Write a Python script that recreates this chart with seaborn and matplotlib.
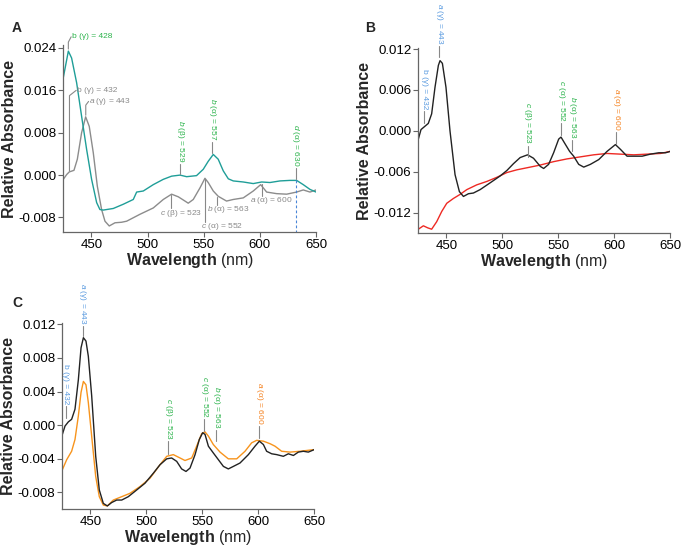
import matplotlib
matplotlib.use("Agg")
import matplotlib.pyplot as plt
import seaborn as sns

# ---- panel A: two spectra (teal and grey) ----
a_teal_wl = [425, 429.5, 432.4, 436.9, 441.3, 445.8, 450.2, 454.7, 457.6, 460.6, 469.5, 478.4,
             487.3, 490.3, 496.2, 505.1, 514, 521.4, 528.9, 534.8, 543.6, 549.6, 554, 558.5,
             562.9, 567.4, 571.9, 576.3, 585.2, 594.1, 601.6, 609, 617.9, 626.8, 632.7, 638.6,
             644.6, 650]
a_teal_abs = [0.0184, 0.0234, 0.0221, 0.0174, 0.0111, 0.0048, -0.0008, -0.0052, -0.0065, -0.0066,
              -0.0063, -0.0055, -0.0046, -0.0032, -0.0030, -0.0018, -0.0008, -0.0002, 0.0,
              -0.0003, -0.0001, 0.0011, 0.0026, 0.0039, 0.0030, 0.0008, -0.0007, -0.0011,
              -0.0013, -0.0016, -0.0013, -0.0014, -0.0011, -0.0010, -0.0010, -0.0018, -0.0027,
              -0.0032]

a_grey_wl = [425, 428, 430.3, 434.5, 437.5, 441.3, 444.9, 448.1, 451.7, 455.3, 459.1, 462.1,
             465.9, 471, 476.9, 481.4, 493.2, 505.1, 514, 521.4, 527.4, 533.3, 536.2, 540.7,
             546.7, 551.1, 554, 558.5, 562.9, 570.3, 576.3, 585.2, 594.1, 600.7, 606, 614.9,
             623.8, 632.7, 638.6, 644.6, 650]
a_grey_abs = [-0.0008, 0.0001, 0.0006, 0.0009, 0.0030, 0.0080, 0.0110, 0.0092, 0.0042, -0.0021,
              -0.0065, -0.0087, -0.0096, -0.0090, -0.0089, -0.0087, -0.0074, -0.0062, -0.0046,
              -0.0036, -0.0041, -0.0049, -0.0053, -0.0046, -0.0024, -0.0006, -0.0014, -0.0030,
              -0.0040, -0.0049, -0.0046, -0.0043, -0.0030, -0.0018, -0.0032, -0.0035, -0.0036,
              -0.0032, -0.0028, -0.0032, -0.0028]

# ---- panel B: black and red spectra ----
b_black_wl = [425, 427.4, 431, 433.9, 436.9, 439.9, 442.9, 444.4, 446.5, 449.7, 453.3, 457.8,
              461.7, 465.3, 469.8, 474.2, 480.2, 489.2, 498.1, 504.1, 510, 516, 522.6, 527.9,
              534, 537, 541.4, 545.9, 550.4, 552.5, 555.4, 560.2, 563.8, 568.3, 572.8, 578.7,
              586.2, 593.6, 601.1, 605.6, 611.5, 617.5, 625, 632.4, 639.9, 645.9, 650]
b_black_abs = [-0.0012, 0.0002, 0.0007, 0.0011, 0.0025, 0.0064, 0.0096, 0.0103, 0.0099, 0.0064,
               0.0, -0.0064, -0.0089, -0.0096, -0.0092, -0.0091, -0.0086, -0.0076, -0.0066,
               -0.0058, -0.0048, -0.0039, -0.0035, -0.0040, -0.0052, -0.0055, -0.0049, -0.0032,
               -0.0012, -0.0009, -0.0017, -0.0030, -0.0037, -0.0049, -0.0053, -0.0049, -0.0042,
               -0.0030, -0.0020, -0.0027, -0.0037, -0.0037, -0.0037, -0.0034, -0.0032, -0.0032,
               -0.0030]

b_red_wl = [425, 429.5, 433.4, 436.9, 441.4, 445.9, 450.4, 456.3, 462.3, 468.3, 477.2, 486.2,
            495.1, 504.1, 513, 522, 533.9, 545.9, 557.8, 569.8, 581.7, 593.6, 605.6, 617.5,
            629.5, 641.4, 650]
b_red_abs = [-0.0144, -0.0139, -0.0142, -0.0144, -0.0133, -0.0118, -0.0106, -0.0099, -0.0093,
             -0.0086, -0.0079, -0.0074, -0.0068, -0.0061, -0.0057, -0.0054, -0.0050, -0.0045,
             -0.0041, -0.0038, -0.0035, -0.0033, -0.0034, -0.0035, -0.0034, -0.0033, -0.0030]

# ---- panel C: black and orange spectra ----
c_black_wl = [425, 427.4, 430.4, 433.3, 436.3, 439.3, 441.7, 443.8, 446.1, 448.2, 451.2, 454.8,
              458, 461.6, 465.2, 469, 473.5, 478, 483.9, 491.4, 498.8, 506.3, 512.2, 518.2,
              522.6, 527.1, 531.5, 535.4, 539, 543.5, 547.3, 550.3, 552.4, 555.4, 559.8, 564.3,
              568.8, 573.2, 577.7, 583.6, 591.1, 597, 600.9, 604.5, 607.4, 611.9, 616.4, 622.3,
              626.8, 631.3, 635.7, 640.2, 644.6, 650]
c_black_abs = [-0.0011, -0.0001, 0.0004, 0.0007, 0.0019, 0.0054, 0.0092, 0.0104, 0.0100, 0.0082,
               0.0035, -0.0037, -0.0077, -0.0093, -0.0096, -0.0092, -0.0089, -0.0089, -0.0085,
               -0.0077, -0.0069, -0.0057, -0.0047, -0.0040, -0.0039, -0.0043, -0.0052, -0.0055,
               -0.0051, -0.0035, -0.0017, -0.0009, -0.0011, -0.0025, -0.0033, -0.0041, -0.0049,
               -0.0052, -0.0049, -0.0045, -0.0035, -0.0025, -0.0019, -0.0023, -0.0031, -0.0034,
               -0.0035, -0.0037, -0.0034, -0.0036, -0.0032, -0.0031, -0.0032, -0.0029]

c_orange_wl = [425, 428.9, 433.3, 436.3, 439.3, 441.7, 443.8, 446.1, 448.2, 451.2, 454.8, 458,
               461.6, 465.2, 470.5, 478, 485.4, 494.3, 503.3, 512.2, 518.2, 524.1, 530.1, 534.5,
               540.5, 544.9, 549.4, 552.4, 555.4, 559.8, 565.8, 573.2, 580.7, 588.1, 594, 598.5,
               604.5, 610.4, 614.9, 620.8, 628.3, 637.2, 650]
c_orange_abs = [-0.0053, -0.0041, -0.0031, -0.0017, 0.0011, 0.0039, 0.0052, 0.0048, 0.0027,
                -0.0013, -0.0061, -0.0085, -0.0095, -0.0096, -0.0089, -0.0085, -0.0081, -0.0073,
                -0.0063, -0.0047, -0.0037, -0.0035, -0.0039, -0.0042, -0.0039, -0.0025, -0.0010,
                -0.0008, -0.0013, -0.0023, -0.0032, -0.0040, -0.0040, -0.0031, -0.0021, -0.0018,
                -0.0019, -0.0022, -0.0025, -0.0031, -0.0032, -0.0031, -0.0029]

GREEN = "#2bb34b"
BLUE = "#5b9be0"
ORANGE = "#f58220"
GREYTXT = "#8a8a8a"
LEAD = "#888888"

sns.set_theme(style="ticks")
plt.rcParams["font.family"] = ["Liberation Sans", "DejaVu Sans"]
plt.rcParams["mathtext.fontset"] = "custom"
plt.rcParams["mathtext.rm"] = "Liberation Sans"
plt.rcParams["mathtext.it"] = "Liberation Sans:italic"
plt.rcParams["mathtext.bf"] = "Liberation Sans:bold"


def style_axis(ax, ylim, yticks, yfmt):
    ax.set_xlim(425, 650)
    ax.set_ylim(*ylim)
    ax.set_xticks([450, 500, 550, 600, 650])
    ax.set_yticks(yticks)
    ax.set_yticklabels([yfmt.format(v) for v in yticks])
    sns.despine(ax=ax)
    for s in ["left", "bottom"]:
        ax.spines[s].set_color("#666666")
        ax.spines[s].set_linewidth(0.9)
    ax.tick_params(direction="out", length=3.5, width=0.8, color="#666666",
                   labelsize=9.5, labelcolor="black", pad=1.5)
    ax.set_xlabel(r"$\mathbf{Wavelength}$ (nm)", fontsize=11.5, labelpad=0)
    ax.set_ylabel("Relative Absorbance", fontsize=11.5, fontweight="bold", labelpad=1)


def vlabel(ax, x, y0, y1, text, color):
    # vertical leader line and rotated peak label above it
    ax.plot([x, x], [y0, y1], color=LEAD, lw=0.8, clip_on=False)
    span = ax.get_ylim()[1] - ax.get_ylim()[0]
    ax.text(x, y1 + span * 0.008, text, rotation=270, ha="center", va="bottom",
            fontsize=6, color=color, clip_on=False)


fig = plt.figure(figsize=(6.85, 5.5), dpi=100)
axA = fig.add_axes([0.0924, 0.5776, 0.369, 0.341])
axB = fig.add_axes([0.6107, 0.5758, 0.3676, 0.3363])
axC = fig.add_axes([0.0910, 0.0740, 0.3679, 0.3380])

# panel A
sns.lineplot(x=a_grey_wl, y=a_grey_abs, ax=axA, color="#8c8c8c", lw=1.0)
sns.lineplot(x=a_teal_wl, y=a_teal_abs, ax=axA, color="#1f9e98", lw=1.0)
style_axis(axA, (-0.0108, 0.0246), [-0.008, 0.0, 0.008, 0.016, 0.024], "{:.3f}")

axA.plot([429.5, 429.5, 432], [0.0238, 0.0251, 0.0261], color=LEAD, lw=0.8, clip_on=False)
axA.text(433, 0.0261, "b (γ) = 428", fontsize=6, color=GREEN, va="center", clip_on=False)
axA.plot([430.5, 430.5, 436.5], [0.0008, 0.0150, 0.0160], color=LEAD, lw=0.8)
axA.text(437.5, 0.0160, "b (γ) = 432", fontsize=6, color=GREYTXT, va="center")
axA.plot([445, 445, 447.5], [0.0113, 0.0132, 0.0139], color=LEAD, lw=0.8)
axA.text(448, 0.0139, r"$\it{a}$ (γ) = 443", fontsize=6, color=GREYTXT, va="center")

axA.plot([521, 521], [-0.0037, -0.0063], color=LEAD, lw=0.8)
axA.text(530, -0.0073, r"$\it{c}$ (β) = 523", fontsize=6, color=GREYTXT, ha="center", va="center")
axA.plot([551, 551], [-0.0008, -0.0089], color=LEAD, lw=0.8)
axA.text(566, -0.0097, r"$\it{c}$ (α) = 552", fontsize=6, color=GREYTXT, ha="center", va="center")
axA.plot([561.5, 561.5], [-0.0041, -0.0057], color=LEAD, lw=0.8)
axA.text(572, -0.0065, r"$\it{b}$ (α) = 563", fontsize=6, color=GREYTXT, ha="center", va="center")
axA.plot([601.6, 601.6], [-0.0017, -0.0040], color=LEAD, lw=0.8)
axA.text(610, -0.0048, r"$\it{a}$ (α) = 600", fontsize=6, color=GREYTXT, ha="center", va="center")

vlabel(axA, 528.9, 0.0002, 0.0021, r"$\it{b}$ (β) = 529", GREEN)
vlabel(axA, 557.6, 0.0041, 0.0062, r"$\it{b}$ (α) = 557", GREEN)
vlabel(axA, 632.0, -0.0008, 0.0014, r"$\it{d}$ (α) = 630", GREEN)
axA.plot([632, 632], [-0.0010, -0.0108], color="#4a86d8", lw=0.8, ls=(0, (2.5, 2)))

# panel B
sns.lineplot(x=b_red_wl, y=b_red_abs, ax=axB, color="#ee2a24", lw=1.0)
sns.lineplot(x=b_black_wl, y=b_black_abs, ax=axB, color="#222222", lw=1.0)
style_axis(axB, (-0.0150, 0.0121), [-0.012, -0.006, 0.0, 0.006, 0.012], "{:.3f}")
vlabel(axB, 430.1, 0.0012, 0.0029, "b (γ) = 432", BLUE)
vlabel(axB, 443.5, 0.0108, 0.0124, r"$\it{a}$ (γ) = 443", BLUE)
vlabel(axB, 522.7, -0.0038, -0.0022, r"$\it{c}$ (β) = 523", GREEN)
vlabel(axB, 552.9, -0.0006, 0.0011, r"$\it{c}$ (α) = 552", GREEN)
vlabel(axB, 562.4, -0.0029, -0.0013, r"$\it{b}$ (α) = 563", GREEN)
vlabel(axB, 601.9, -0.0019, -0.0002, r"$\it{a}$ (α) = 600", ORANGE)

# panel C
sns.lineplot(x=c_orange_wl, y=c_orange_abs, ax=axC, color="#f7941d", lw=1.0)
sns.lineplot(x=c_black_wl, y=c_black_abs, ax=axC, color="#222222", lw=1.0)
style_axis(axC, (-0.0100, 0.0121), [-0.008, -0.004, 0.0, 0.004, 0.008, 0.012], "{:.3f}")
vlabel(axC, 428.0, 0.0008, 0.0023, "b (γ) = 432", BLUE)
vlabel(axC, 443.2, 0.0106, 0.0118, r"$\it{a}$ (γ) = 443", BLUE)
vlabel(axC, 519.6, -0.0034, -0.0019, r"$\it{c}$ (β) = 523", GREEN)
vlabel(axC, 551.5, -0.0007, 0.0007, r"$\it{c}$ (α) = 552", GREEN)
vlabel(axC, 562.2, -0.0019, -0.0006, r"$\it{b}$ (α) = 563", GREEN)
vlabel(axC, 600.9, -0.0015, -0.0001, r"$\it{a}$ (α) = 600", ORANGE)

# panel letters
fig.text(17 / 685, 1 - 28 / 550, "A", fontsize=10, fontweight="bold", ha="center", va="center")
fig.text(370 / 685, 1 - 28 / 550, "B", fontsize=10, fontweight="bold", ha="center", va="center")
fig.text(17 / 685, 1 - 303 / 550, "C", fontsize=10, fontweight="bold", ha="center", va="center")

fig.savefig("out.png", dpi=100)
